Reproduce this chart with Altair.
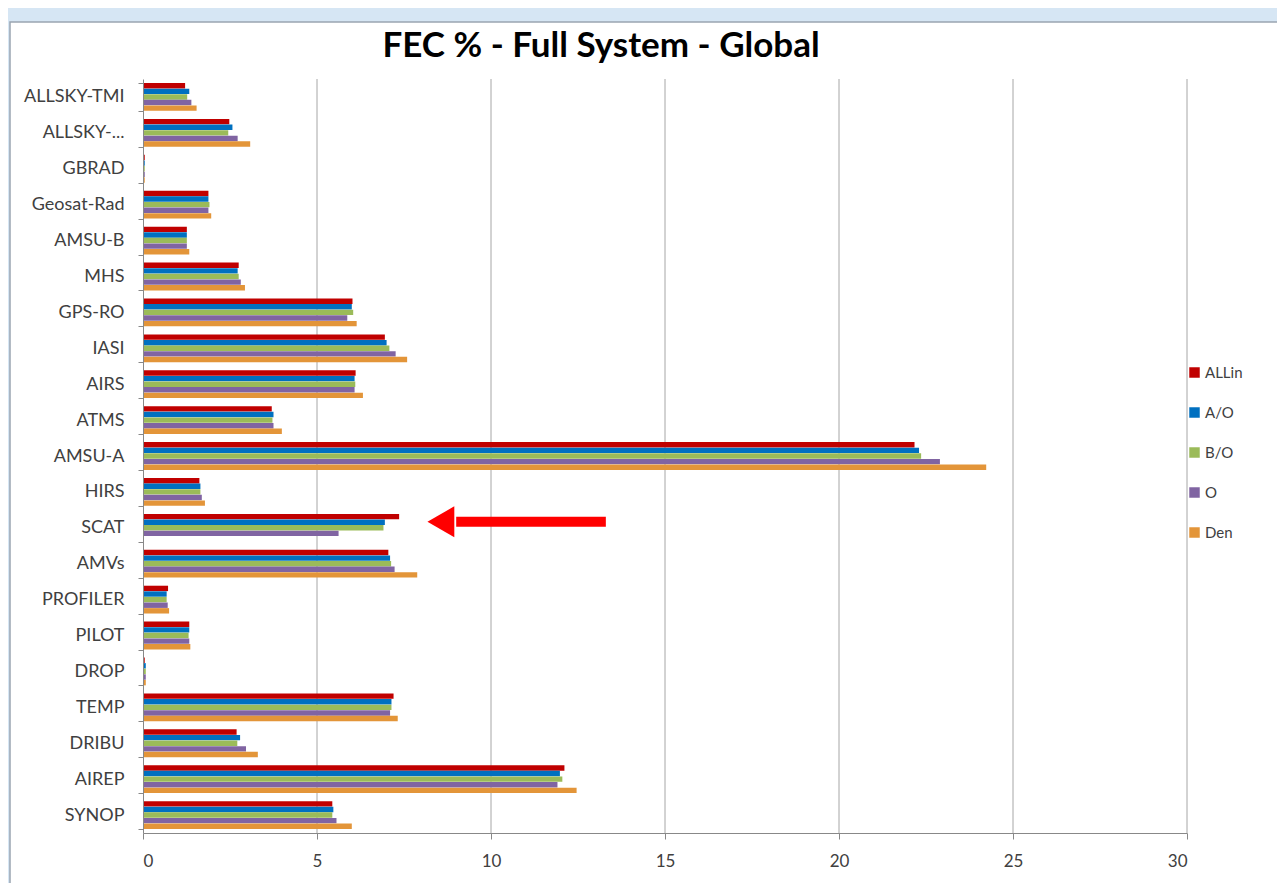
import altair as alt
import pandas as pd

title_text = ["FEC % - Full System - Global"]
categories = ["ALLSKY-TMI", "ALLSKY-...", "GBRAD", "Geosat-Rad", "AMSU-B", "MHS", "GPS-RO",
              "IASI", "AIRS", "ATMS", "AMSU-A", "HIRS", "SCAT", "AMVs", "PROFILER", "PILOT",
              "DROP", "TEMP", "DRIBU", "AIREP", "SYNOP"]
series = ["ALLin", "A/O", "B/O", "O", "Den"]
colors = ["#C00000", "#0070C0", "#9BBB59", "#8064A2", "#E39539"]

allin = [1.21, 2.48, 0.05, 1.88, 1.26, 2.75, 6.02, 6.95, 6.11, 3.70, 22.17, 1.62, 7.36, 7.05, 0.72, 1.33, 0.05, 7.20, 2.69, 12.11, 5.44]
a_o   = [1.33, 2.57, 0.05, 1.88, 1.26, 2.72, 6.00, 7.00, 6.08, 3.75, 22.30, 1.65, 6.95, 7.10, 0.68, 1.33, 0.08, 7.14, 2.79, 11.98, 5.47]
b_o   = [1.27, 2.45, 0.05, 1.91, 1.26, 2.75, 6.04, 7.08, 6.10, 3.72, 22.36, 1.65, 6.91, 7.13, 0.68, 1.31, 0.08, 7.14, 2.71, 12.05, 5.44]
o     = [1.39, 2.72, 0.05, 1.88, 1.26, 2.81, 5.87, 7.26, 6.08, 3.75, 22.90, 1.69, 5.62, 7.23, 0.71, 1.33, 0.08, 7.10, 2.96, 11.91, 5.56]
den   = [1.54, 3.08, 0.05, 1.96, 1.33, 2.93, 6.14, 7.59, 6.32, 3.99, 24.23, 1.78, None, 7.88, 0.75, 1.36, 0.08, 7.32, 3.30, 12.46, 6.00]

x_ticks = [0, 5, 10, 15, 20, 25, 30]

rows = []
for name, vals in zip(series, [allin, a_o, b_o, o, den]):
    for c, v in zip(categories, vals):
        if v is not None:
            rows.append({"cat": c, "series": name, "value": v})
df = pd.DataFrame(rows)

arrow_target = "SCAT"
arrow_shaft = pd.DataFrame([{"cat": arrow_target, "x1": 13.3, "x2": 9.0}])
arrow_head = pd.DataFrame([{"cat": arrow_target, "xh": 8.56}])
grid_df = pd.DataFrame({"value": x_ticks[1:]})

FONT = "Lato"

yenc = alt.Y("cat:N", sort=categories, title=None,
             scale=alt.Scale(paddingInner=0.22, paddingOuter=0.11),
             axis=alt.Axis(labelFontSize=18, labelColor="#404040", labelFont=FONT,
                           labelPadding=14, tickBand="extent", tickSize=5, zindex=1,
                           tickColor="#888888", domainColor="#888888", grid=False))
xenc = alt.X("value:Q", title=None,
             scale=alt.Scale(domain=[0, 30], nice=False),
             axis=alt.Axis(values=x_ticks, labelFontSize=17, labelColor="#404040",
                           labelFont=FONT, labelPadding=14, tickSize=6, tickColor="#888888",
                           domainColor="#888888", grid=False, zindex=1))

panel = alt.Chart(pd.DataFrame([{"k": 1}])).mark_rect(
    color="white", stroke="#9aa5b1", strokeWidth=1.5
).encode(x=alt.value(-133), x2=alt.value(1150), y=alt.value(-57), y2=alt.value(830))

grid = alt.Chart(grid_df).mark_rule(color="#A6A6A6", strokeWidth=1).encode(
    x=alt.X("value:Q", scale=alt.Scale(domain=[0, 30], nice=False))
)

bars = alt.Chart(df).mark_bar(size=5.4).encode(
    y=yenc,
    x=xenc,
    yOffset=alt.YOffset("series:N", sort=series, scale=alt.Scale(paddingInner=0, domain=series)),
    color=alt.Color("series:N", sort=series,
                    scale=alt.Scale(domain=series, range=colors),
                    legend=alt.Legend(title=None, orient="none", legendX=1044, legendY=286,
                                      symbolType="square", symbolSize=110,
                                      symbolStrokeWidth=0, labelFontSize=15,
                                      labelFont=FONT, labelColor="#404040",
                                      rowPadding=24, labelOffset=3)),
)

shaft = alt.Chart(arrow_shaft).mark_rule(color="#FF0000", strokeWidth=10, yOffset=-6).encode(
    y=alt.Y("cat:N", sort=categories),
    x=alt.X("x1:Q"),
    x2="x2:Q",
)
head = alt.Chart(arrow_head).mark_point(shape="triangle-left", size=961, filled=True,
                                        color="#FF0000", opacity=1, yOffset=-6).encode(
    y=alt.Y("cat:N", sort=categories),
    x=alt.X("xh:Q"),
)

title = alt.Chart(pd.DataFrame({"t": title_text})).mark_text(
    font=FONT, fontSize=35, fontWeight="bold", color="#000000",
    align="center", baseline="middle"
).encode(text="t:N", x=alt.value(458), y=alt.value(-33))

chart = alt.layer(panel, grid, bars, shaft, head, title).properties(
    width=1044, height=754,
    autosize=alt.AutoSizeParams(type="none"),
    padding={"left": 135, "top": 71, "right": 90, "bottom": 50},
    background="#d6e6f4",
).configure_view(stroke=None).resolve_scale(y="shared")

chart.save("out.html", embed_options={"renderer": "svg", "actions": False})
